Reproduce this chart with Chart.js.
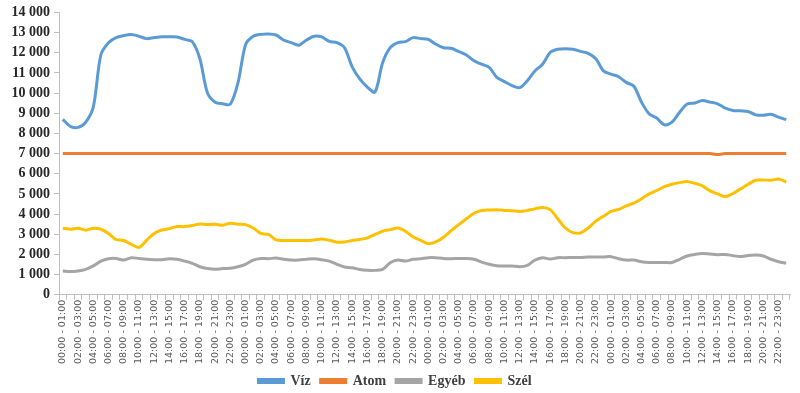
<!DOCTYPE html>
<html>
<head>
<meta charset="utf-8">
<script src="https://cdn.jsdelivr.net/npm/chart.js@4.4.1/dist/chart.umd.min.js"></script>
<style>
  html, body { margin: 0; padding: 0; background: #ffffff; }
  #wrap { width: 800px; height: 393px; }
</style>
</head>
<body>
<div id="wrap"><canvas id="chart"></canvas></div>
<script>
// Hourly slots, 4 days
const HOURS = ["00:00 - 01:00", "01:00 - 02:00", "02:00 - 03:00", "03:00 - 04:00", "04:00 - 05:00", "05:00 - 06:00",
    "06:00 - 07:00", "07:00 - 08:00", "08:00 - 09:00", "09:00 - 10:00", "10:00 - 11:00", "11:00 - 12:00",
    "12:00 - 13:00", "13:00 - 14:00", "14:00 - 15:00", "15:00 - 16:00", "16:00 - 17:00", "17:00 - 18:00",
    "18:00 - 19:00", "19:00 - 20:00", "20:00 - 21:00", "21:00 - 22:00", "22:00 - 23:00", "23:00 - 24:00"];
const labels = [...HOURS, ...HOURS, ...HOURS, ...HOURS];

const viz = [
    8700, 8350, 8300, 8550, 9300, 11900, 12500, 12750, 12850, 12900, 12820, 12700,
    12750, 12790, 12790, 12780, 12660, 12550, 11700, 10000, 9550, 9470, 9450, 10500,
    12400, 12820, 12910, 12930, 12880, 12630, 12500, 12370, 12630, 12820, 12790, 12560,
    12500, 12250, 11300, 10700, 10290, 10050, 11500, 12250, 12500, 12550, 12750, 12700,
    12660, 12420, 12250, 12220, 12060, 11890, 11600, 11430, 11270, 10780, 10570, 10370,
    10270, 10610, 11100, 11430, 12010, 12170, 12200, 12170, 12070, 11970, 11700, 11100,
    10940, 10810, 10530, 10340, 9550, 8970, 8760, 8430, 8560, 9050, 9460, 9510,
    9630, 9550, 9470, 9250, 9140, 9120, 9090, 8920, 8900, 8950, 8810, 8680
];
const atom = [
    7000, 7000, 7000, 7000, 7000, 7000, 7000, 7000, 7000, 7000, 7000, 7000,
    7000, 7000, 7000, 7000, 7000, 7000, 7000, 7000, 7000, 7000, 7000, 7000,
    7000, 7000, 7000, 7000, 7000, 7000, 7000, 7000, 7000, 7000, 7000, 7000,
    7000, 7000, 7000, 7000, 7000, 7000, 7000, 7000, 7000, 7000, 7000, 7000,
    7000, 7000, 7000, 7000, 7000, 7000, 7000, 7000, 7000, 7000, 7000, 7000,
    7000, 7000, 7000, 7000, 7000, 7000, 7000, 7000, 7000, 7000, 7000, 7000,
    7000, 7000, 7000, 7000, 7000, 7000, 7000, 7000, 7000, 7000, 7000, 7000,
    7000, 7000, 6950, 7000, 7000, 7000, 7000, 7000, 7000, 7000, 7000, 7000
];
const egyeb = [
    1180, 1150, 1180, 1260, 1430, 1670, 1790, 1800, 1720, 1840, 1800, 1760,
    1740, 1740, 1790, 1760, 1670, 1560, 1390, 1300, 1260, 1300, 1310, 1390,
    1510, 1720, 1800, 1790, 1820, 1760, 1720, 1720, 1760, 1790, 1740, 1670,
    1510, 1380, 1340, 1250, 1210, 1210, 1260, 1590, 1720, 1670, 1760, 1790,
    1840, 1840, 1800, 1790, 1800, 1800, 1760, 1620, 1510, 1440, 1430, 1430,
    1390, 1460, 1720, 1840, 1770, 1840, 1840, 1850, 1850, 1870, 1870, 1870,
    1890, 1790, 1720, 1720, 1640, 1600, 1600, 1600, 1600, 1760, 1920, 2000,
    2050, 2020, 1990, 2000, 1940, 1900, 1950, 1970, 1920, 1760, 1640, 1560
];
const szel = [
    3300, 3250, 3300, 3200, 3300, 3250, 3040, 2740, 2690, 2500, 2350, 2700,
    3040, 3210, 3280, 3380, 3380, 3430, 3510, 3480, 3500, 3450, 3550, 3500,
    3480, 3310, 3040, 2990, 2720, 2690, 2690, 2690, 2690, 2720, 2770, 2700,
    2610, 2620, 2690, 2740, 2820, 2990, 3150, 3230, 3310, 3150, 2870, 2700,
    2530, 2620, 2850, 3180, 3480, 3770, 4040, 4180, 4200, 4220, 4180, 4170,
    4130, 4180, 4260, 4330, 4220, 3770, 3310, 3080, 3070, 3310, 3650, 3890,
    4130, 4230, 4410, 4540, 4760, 5000, 5170, 5360, 5480, 5560, 5610, 5530,
    5400, 5150, 5000, 4870, 5020, 5250, 5480, 5680, 5690, 5680, 5740, 5590
];

// Colors
const COLOR_VIZ = "#5b9bd5";
const COLOR_ATOM = "#ed7d31";
const COLOR_EGYEB = "#a5a5a5";
const COLOR_SZEL = "#ffc000";

function makeSet(label, data, color) {
    return {
        label: label,
        data: data,
        borderColor: color,
        backgroundColor: color,
        borderWidth: 3,
        pointRadius: 0,
        tension: 0.3,
        fill: false
    };
}

const AXIS_COLOR = "#bfbfbf";

new Chart("chart", {
    type: "line",
    data: {
        labels: labels,
        datasets: [
            makeSet("Víz", viz, COLOR_VIZ),
            makeSet("Atom", atom, COLOR_ATOM),
            makeSet("Egyéb", egyeb, COLOR_EGYEB),
            makeSet("Szél", szel, COLOR_SZEL)
        ]
    },
    options: {
        responsive: true,
        maintainAspectRatio: false,
        animation: false,
        layout: { padding: { left: 0, right: 10, top: 2, bottom: -5 } },
        plugins: {
            tooltip: { enabled: false },
            legend: {
                position: "bottom",
                labels: {
                    usePointStyle: false,
                    boxWidth: 25,
                    boxHeight: 3,
                    padding: 10,
                    color: "#404040",
                    font: { family: "Liberation Serif", weight: "bold", size: 14 }
                }
            }
        },
        scales: {
            x: {
                offset: true,
                grid: {
                    display: true,
                    drawOnChartArea: false,
                    color: AXIS_COLOR,
                    tickLength: 5,
                    offset: true
                },
                border: { color: AXIS_COLOR, width: 1 },
                ticks: {
                    autoSkip: false,
                    maxRotation: 90,
                    minRotation: 90,
                    padding: 0,
                    color: "#595959",
                    font: { family: "DejaVu Sans", size: 9.5 },
                    callback: function (value, index) {
                        return index % 2 === 0 ? labels[index] : "";
                    }
                }
            },
            y: {
                min: 0,
                max: 14000,
                afterFit: function (scale) { scale.width = 59; },
                grid: {
                    display: true,
                    drawOnChartArea: false,
                    color: AXIS_COLOR,
                    tickLength: 5
                },
                border: { color: AXIS_COLOR, width: 1 },
                ticks: {
                    autoSkip: false,
                    stepSize: 1000,
                    padding: 4,
                    color: "#262626",
                    font: { family: "Liberation Serif", weight: "bold", size: 14 },
                    callback: function (value) {
                        return String(value).replace(/\B(?=(\d{3})+(?!\d))/g, " ");
                    }
                }
            }
        }
    }
});
</script>
</body>
</html>
